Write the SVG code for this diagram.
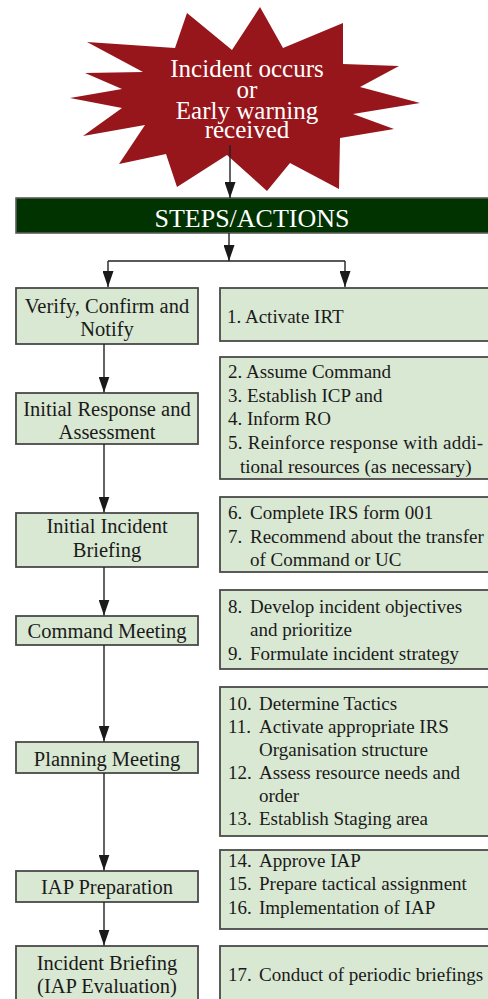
<svg xmlns="http://www.w3.org/2000/svg" width="488" height="999" viewBox="0 0 488 999">
  <defs>
    <marker id="arrow" viewBox="0 0 11 16" refX="5.5" refY="16" markerWidth="11" markerHeight="16" markerUnits="userSpaceOnUse" orient="0">
      <path d="M0,0 L11,0 L5.5,16 Z" fill="#1a1a1a"/>
    </marker>
    <style>
      .box { fill: #d9e8d3; stroke: #4a4a4a; stroke-width: 1.8; }
      .bar { fill: #003300; stroke: #5a5a5a; stroke-width: 1.6; }
      .burst { fill: #97161b; }
      .link { fill: none; stroke: #222; stroke-width: 1.4; }
      .arr { marker-end: url(#arrow); }
      text { font-family: "Liberation Serif", "Times New Roman", serif; fill: #1a1a1a; }
      .step { font-size: 20.5px; text-anchor: middle; }
      .act { font-size: 19px; }
      .head { font-size: 26px; fill: #fff; text-anchor: middle; }
      .burst-t { font-size: 25px; fill: #fff; text-anchor: middle; }
    </style>
  </defs>

  <!-- trigger event -->
  <g id="start">
    <polygon class="burst" points="260,7 283,48 343,23 343,64 399,66 360,87 420,103 353,114 394,129 340,138 339,189 290,163 267,191 227,155 177,187 166,154 119,164 145,125 83,136 122,108 70,98 122,89 85,73 143,72 87,42 175,48 187,13 232,50"/>
    <text class="burst-t" x="247" y="77">Incident occurs</text>
    <text class="burst-t" x="247" y="98">or</text>
    <text class="burst-t" x="247" y="118.5">Early warning</text>
    <text class="burst-t" x="247" y="138">received</text>
  </g>

  <!-- header bar -->
  <g id="header">
    <rect class="bar" x="16" y="198" width="480" height="35"/>
    <text class="head" x="252" y="226.5">STEPS/ACTIONS</text>
  </g>

  <!-- step column -->
  <g id="s1">
    <rect class="box" x="16" y="288" width="182" height="56"/>
    <text class="step" x="107" y="313">Verify, Confirm and</text>
    <text class="step" x="107" y="336">Notify</text>
  </g>
  <g id="s2">
    <rect class="box" x="16" y="393" width="182" height="51"/>
    <text class="step" x="107" y="415.5">Initial Response and</text>
    <text class="step" x="107" y="439">Assessment</text>
  </g>
  <g id="s3">
    <rect class="box" x="16" y="513" width="182" height="54"/>
    <text class="step" x="107" y="533">Initial Incident</text>
    <text class="step" x="107" y="557">Briefing</text>
  </g>
  <g id="s4">
    <rect class="box" x="16" y="616" width="182" height="29"/>
    <text class="step" x="107" y="638">Command Meeting</text>
  </g>
  <g id="s5">
    <rect class="box" x="16" y="742" width="182" height="31"/>
    <text class="step" x="107" y="766">Planning Meeting</text>
  </g>
  <g id="s6">
    <rect class="box" x="16" y="871" width="182" height="31"/>
    <text class="step" x="107" y="894">IAP Preparation</text>
  </g>
  <g id="s7">
    <rect class="box" x="16" y="946" width="182" height="60"/>
    <text class="step" x="107" y="970">Incident Briefing</text>
    <text class="step" x="107" y="993">(IAP Evaluation)</text>
  </g>

  <!-- action column -->
  <g id="a1">
    <rect class="box" x="220" y="288" width="280" height="53"/>
    <text class="act" x="227" y="323">1. Activate IRT</text>
  </g>
  <g id="a2">
    <rect class="box" x="220" y="357" width="280" height="122"/>
    <text class="act" x="228" y="378">2. Assume Command</text>
    <text class="act" x="228" y="401.5">3. Establish ICP and</text>
    <text class="act" x="228" y="425">4. Inform RO</text>
    <text class="act" x="228" y="448.5" textLength="255" lengthAdjust="spacing">5. Reinforce response with addi-</text>
    <text class="act" x="240" y="472.5">tional resources (as necessary)</text>
  </g>
  <g id="a3">
    <rect class="box" x="220" y="497" width="280" height="75"/>
    <text class="act" x="228" y="518.5">6.</text>
    <text class="act" x="250" y="518.5">Complete IRS form 001</text>
    <text class="act" x="228" y="543">7.</text>
    <text class="act" x="250" y="543">Recommend about the transfer</text>
    <text class="act" x="250" y="566">of Command or UC</text>
  </g>
  <g id="a4">
    <rect class="box" x="220" y="590" width="280" height="79"/>
    <text class="act" x="228" y="612.5">8.</text>
    <text class="act" x="250" y="612.5">Develop incident objectives</text>
    <text class="act" x="250" y="636">and prioritize</text>
    <text class="act" x="228" y="660">9.</text>
    <text class="act" x="250" y="660">Formulate incident strategy</text>
  </g>
  <g id="a5">
    <rect class="box" x="220" y="687" width="280" height="149"/>
    <text class="act" x="228" y="709.5">10.</text>
    <text class="act" x="259" y="709.5">Determine Tactics</text>
    <text class="act" x="228" y="732.5">11.</text>
    <text class="act" x="259" y="732.5">Activate appropriate IRS</text>
    <text class="act" x="259" y="755.5">Organisation structure</text>
    <text class="act" x="228" y="778.5">12.</text>
    <text class="act" x="259" y="778.5">Assess resource needs and</text>
    <text class="act" x="259" y="801.5">order</text>
    <text class="act" x="228" y="824.5">13.</text>
    <text class="act" x="259" y="824.5">Establish Staging area</text>
  </g>
  <g id="a6">
    <rect class="box" x="220" y="850" width="280" height="79"/>
    <text class="act" x="228" y="866.5">14.</text>
    <text class="act" x="259" y="866.5">Approve IAP</text>
    <text class="act" x="228" y="890">15.</text>
    <text class="act" x="259" y="890">Prepare tactical assignment</text>
    <text class="act" x="228" y="913.5">16.</text>
    <text class="act" x="259" y="913.5">Implementation of IAP</text>
  </g>
  <g id="a7">
    <rect class="box" x="220" y="946" width="280" height="60"/>
    <text class="act" x="228" y="981">17.</text>
    <text class="act" x="259" y="981">Conduct of periodic briefings</text>
  </g>

  <!-- connectors -->
  <g id="connectors">
    <line class="link arr" x1="230" y1="145" x2="230" y2="198"/>
    <line class="link arr" x1="229" y1="233" x2="229" y2="261"/>
    <polyline class="link" points="108,261 345,261"/>
    <line class="link arr" x1="108" y1="261" x2="108" y2="287"/>
    <line class="link arr" x1="345" y1="261" x2="345" y2="287"/>
    <line class="link arr" x1="104" y1="344" x2="104" y2="392.5"/>
    <line class="link arr" x1="104" y1="444" x2="104" y2="512.5"/>
    <line class="link arr" x1="104" y1="567" x2="104" y2="615.5"/>
    <line class="link arr" x1="104" y1="645" x2="104" y2="741.5"/>
    <line class="link arr" x1="104" y1="773" x2="104" y2="870.5"/>
    <line class="link arr" x1="104" y1="902" x2="104" y2="945.5"/>
  </g>
</svg>
